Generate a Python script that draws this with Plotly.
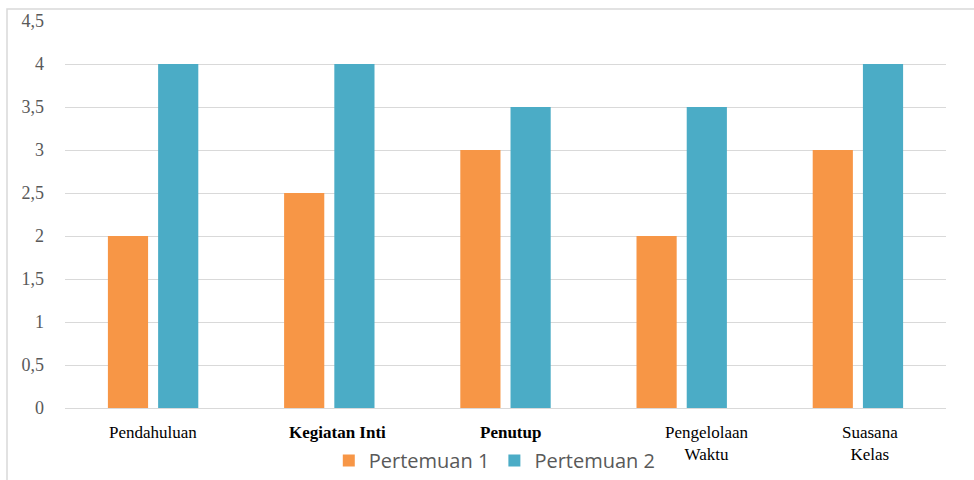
import plotly.graph_objects as go

categories = ["Pendahuluan", "Kegiatan Inti", "Penutup", "Pengelolaan Waktu", "Suasana Kelas"]
tick_labels = ["Pendahuluan", "<b>Kegiatan Inti</b>", "<b>Penutup</b>", "Pengelolaan<br>Waktu", "Suasana<br>Kelas"]
pertemuan1 = [2, 2.5, 3, 2, 3]
pertemuan2 = [4, 4, 3.5, 3.5, 4]
y_ticks = [0, 0.5, 1, 1.5, 2, 2.5, 3, 3.5, 4, 4.5]
y_labels = ["0", "0,5", "1", "1,5", "2", "2,5", "3", "3,5", "4", "4,5"]

# style: horizontal pixel offsets of the category labels, as in the original
label_xshift = [0, 8, 5, 25, 12]

fig = go.Figure()
fig.add_trace(go.Bar(x=categories, y=pertemuan1, name="Pertemuan 1", marker=dict(color="#f79646", line=dict(width=0))))
fig.add_trace(go.Bar(x=categories, y=pertemuan2, name="Pertemuan 2", marker=dict(color="#4bacc6", line=dict(width=0))))

W, H = 974, 480
px0, px1, py0, py1 = 65, 946, 21, 408

annotations = [
    dict(x=c, y=0, xref="x", yref="y", text=t, showarrow=False, xanchor="center", yanchor="top",
         yshift=-13, xshift=s, align="center",
         font=dict(family="Liberation Serif", size=17, color="#000000"))
    for c, t, s in zip(categories, tick_labels, label_xshift)
]

fig.update_layout(
    width=W, height=H,
    margin=dict(l=0, r=0, t=0, b=0),
    paper_bgcolor="white", plot_bgcolor="white",
    barmode="group", bargap=0.43, bargroupgap=0.2,
    font=dict(family="Liberation Serif", color="#595959"),
    xaxis=dict(domain=[px0 / W, px1 / W], automargin=False, showticklabels=False,
               showgrid=False, showline=False, ticks=""),
    yaxis=dict(domain=[1 - py1 / H, 1 - py0 / H], automargin=False,
               range=[0, 4.5], tickvals=y_ticks, ticktext=y_labels,
               showgrid=True, gridcolor="#d9d9d9", gridwidth=1,
               zeroline=True, zerolinecolor="#d9d9d9", zerolinewidth=1,
               tickfont=dict(family="Liberation Serif", size=18, color="#595959"),
               ticks="", ticklabelstandoff=20),
    legend=dict(orientation="h", x=0.508, xanchor="center", y=0, yanchor="bottom",
                font=dict(family="Open Sans", size=20, color="#595959"), itemwidth=30,
                traceorder="normal", bgcolor="rgba(0,0,0,0)"),
    showlegend=True,
    annotations=annotations,
    shapes=[dict(type="rect", xref="paper", yref="paper",
                 x0=7 / W, x1=1.05, y0=-0.05, y1=1 - 9 / H,
                 line=dict(color="#d9d9d9", width=1.5), fillcolor="rgba(0,0,0,0)", layer="below")],
)
fig.write_html("out.html")
